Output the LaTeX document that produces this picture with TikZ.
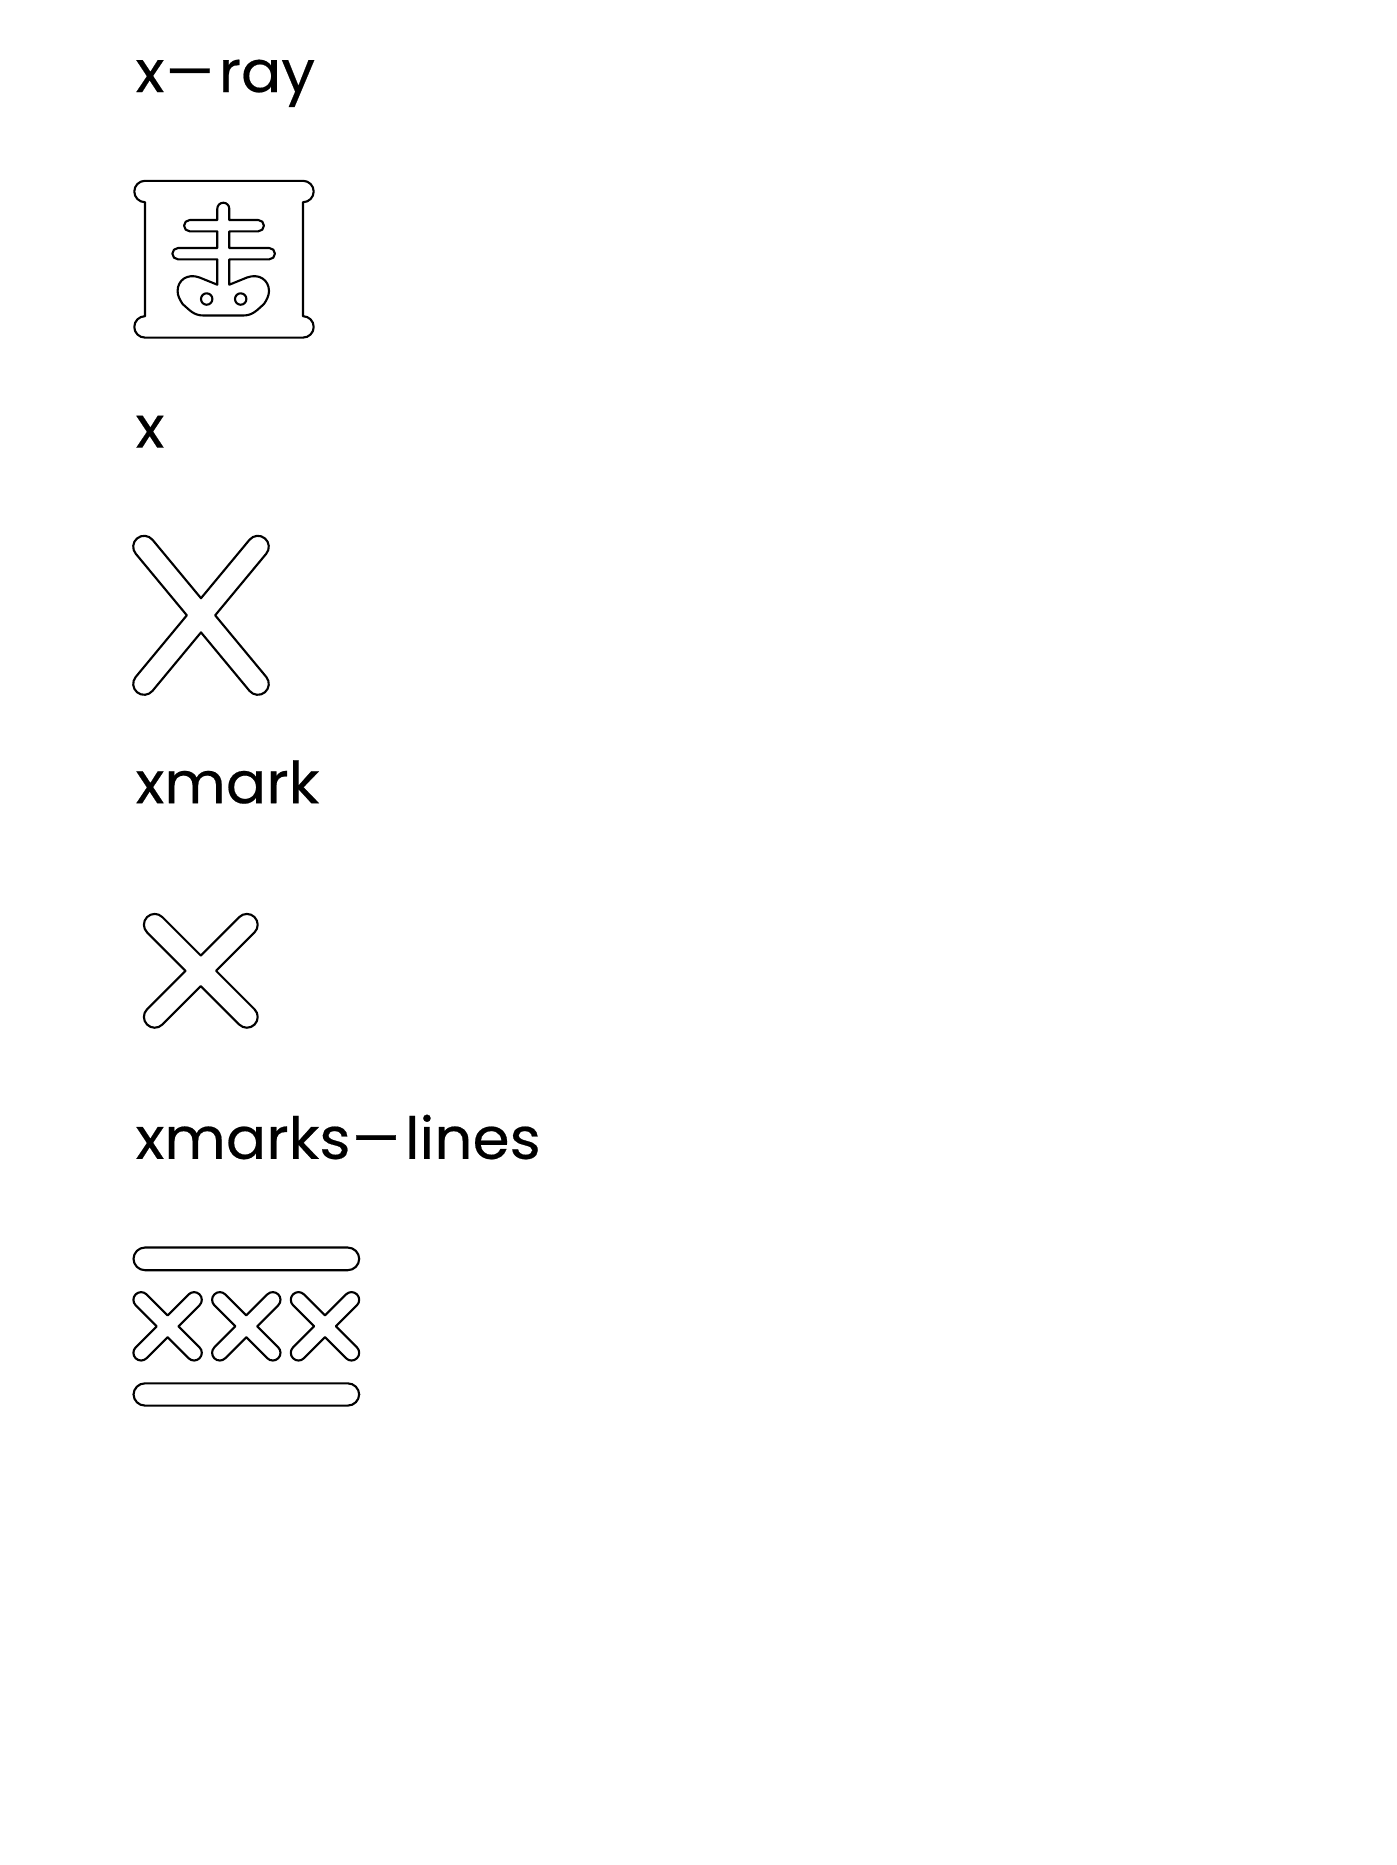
\documentclass[tikz,border=0pt]{standalone}
\usepackage{graphicx}
\usepackage{fontspec}
\setmainfont{Poppins}[FakeStretch=1.03, FakeBold=0.35]
\newcommand{\longhyphen}{\scalebox{1.65}[1]{-}}
\tikzset{
  iconline/.style={draw=black, line width=0.6pt, line join=round},
  iconlabel/.style={anchor=base west, inner sep=0pt, font=\fontsize{16.5pt}{18pt}\selectfont}
}
\begin{document}
\begin{tikzpicture}[x=0.01cm, y=0.01cm]
    % one unit is one pixel of the sheet, y runs down as negative values
    \useasboundingbox (0,0) rectangle (1397,-1865);

    % #1,#2 centre, #3,#4 end of the upper right arm, #5 half width of an arm
    \def\xshape#1#2#3#4#5{
        \pgfmathsetmacro\armAngle{atan2(#4,#3)}
        \draw[iconline, shift={(#1,#2)}] (0,{#5/cos(\armAngle)})
            -- ({#3-#5*sin(\armAngle)},{#4+#5*cos(\armAngle)})
            arc[start angle=\armAngle+90, end angle=\armAngle-90, radius=#5]
            -- ({#5/sin(\armAngle)},0)
            -- ({#3+#5*sin(\armAngle)},{-#4+#5*cos(\armAngle)})
            arc[start angle=90-\armAngle, end angle=-90-\armAngle, radius=#5]
            -- (0,{-#5/cos(\armAngle)})
            -- ({-#3+#5*sin(\armAngle)},{-#4-#5*cos(\armAngle)})
            arc[start angle=\armAngle-90, end angle=\armAngle-270, radius=#5]
            -- ({-#5/sin(\armAngle)},0)
            -- ({-#3-#5*sin(\armAngle)},{#4-#5*cos(\armAngle)})
            arc[start angle=270-\armAngle, end angle=90-\armAngle, radius=#5]
            -- cycle;
    }

    \node[iconlabel] (xrayLabel) at (135,-92) {x\longhyphen ray};
    \node[iconlabel] (xLabel) at (135,-447.6) {x};
    \node[iconlabel] (xmarkLabel) at (135,-803.2) {xmark};
    \node[iconlabel] (xmarksLinesLabel) at (135,-1158.8) {xmarks\longhyphen lines};

    % x-ray frame
    \draw[iconline] (145,-180.8) -- (303,-180.8)
        arc[start angle=90, end angle=-90, radius=10.7]
        -- (303,-316.2)
        arc[start angle=90, end angle=-90, radius=10.7]
        -- (145,-337.6)
        arc[start angle=270, end angle=90, radius=10.7]
        -- (145,-202.2)
        arc[start angle=270, end angle=90, radius=10.7]
        -- cycle;

    % spine, ribs and pelvis
    \draw[iconline] (217.3,-284.7) -- (217.3,-259.3) -- (178,-259.3)
        arc[start angle=270, end angle=90, radius=5.65]
        -- (217.3,-248) -- (217.3,-231.3) -- (189.7,-231.3)
        arc[start angle=270, end angle=90, radius=5.65]
        -- (217.3,-220) -- (217.3,-208.7)
        arc[start angle=180, end angle=0, radius=6]
        -- (229.3,-220) -- (258.3,-220)
        arc[start angle=90, end angle=-90, radius=5.65]
        -- (229.3,-231.3) -- (229.3,-248) -- (269.3,-248)
        arc[start angle=90, end angle=-90, radius=5.65]
        -- (229.3,-259.3) -- (229.3,-284.7)
        -- (247,-277.5) .. controls (259,-273) and (269,-280) .. (269,-291)
        .. controls (269,-296) and (266.5,-300) .. (264,-304)
        .. controls (257,-310) and (253,-315.5) .. (243,-315.5)
        -- (203.6,-315.5) .. controls (193.6,-315.5) and (189.6,-310) .. (182.6,-304)
        .. controls (180.1,-300) and (177.6,-296) .. (177.6,-291)
        .. controls (177.6,-280) and (187.6,-273) .. (199.6,-277.5)
        -- cycle;
    \draw[iconline] (206.7,-299) circle[radius=5.7];
    \draw[iconline] (240.7,-299) circle[radius=5.7];

    % single crosses
    \xshape{201}{-615.3}{56.9}{68.6}{10.9}
    \xshape{200.8}{-970.8}{46.1}{46.1}{10.8}

    % row of crosses between two bars
    \draw[iconline, rounded corners=0.115cm] (133.5,-1247.5) rectangle (359.2,-1270.2);
    \foreach \x in {167.6,246.3,325}
        \xshape{\x}{-1326.3}{26.5}{26.5}{7.7};
    \draw[iconline, rounded corners=0.115cm] (133.5,-1383.3) rectangle (359.2,-1405.6);
\end{tikzpicture}
\end{document}
